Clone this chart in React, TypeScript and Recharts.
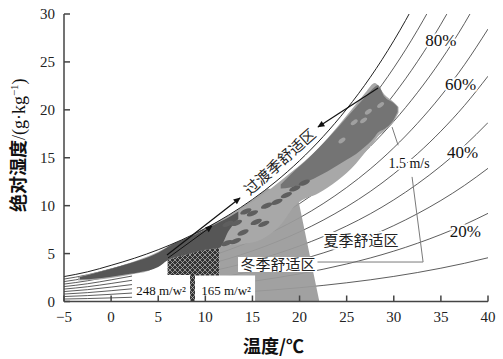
import React from 'react';
import {
  ComposedChart, XAxis, YAxis, Line, Area, Scatter,
  ReferenceArea, ReferenceDot, Label,
} from 'recharts';

// ---------- axes ----------
const xTicks = [-5, 0, 5, 10, 15, 20, 25, 30, 35, 40];
const yTicks = [0, 5, 10, 15, 20, 25, 30];

// ---------- psychrometric grid (dry-bulb °C, saturation vapour pressure kPa) ----------
const gridTemps = [-5, -2.5, 0, 2.5, 5, 7.5, 10, 12.5, 15, 17.5, 20, 22.5, 25, 27.5, 30, 32.5, 35, 37.5, 40];
const satPressure = [0.4217, 0.5017, 0.6112, 0.7315, 0.8726, 1.0373, 1.2282, 1.4497, 1.7057, 2.0009, 2.3392, 2.7272, 3.1697, 3.6723, 4.2467, 4.8977, 5.629, 6.451, 7.3814];
const rhLevels = [10, 20, 30, 40, 50, 60, 70, 80, 90];
const saturationLevel = 100;
const atmPressure = 101.325;

// ---------- zones ----------
const maskT = [2.3, 4, 6];
const maskTop = [4.4, 4.9, 5.7];
const hatchT = [6, 8, 10, 11.5];
const hatchTop = [5.75, 6.6, 7.6, 8.45];
const winterT = [11.5, 13, 15, 16.6, 19.7, 22.1];
const winterTop = [8.45, 9.3, 10.6, 11.8, 11.4, 0];

// ---------- climate data cloud ----------
const climateT = [-3.5, -2, 0, 2, 4, 6, 8, 10, 11.5, 12, 14, 16, 18, 19.5, 20, 22, 24, 26, 27, 28, 28.3, 29, 30, 30.5];
const climateLow = [2.2, 2.25, 2.45, 2.8, 3.2, 4.3, 4.9, 5.4, 5.6, 5.8, 6.0, 6.5, 8.0, 10.0, 10.4, 11.3, 12.6, 14.4, 15.6, 16.8, 17.2, 17.8, 18.8, 19.7];
const climateHigh = [2.55, 2.95, 3.45, 4.05, 4.75, 5.7, 6.6, 7.55, 8.4, 8.6, 9.8, 11.1, 12.6, 13.8, 14.2, 16.0, 18.2, 20.6, 21.8, 22.8, 22.6, 21.6, 20.8, 20.3];
const denseT = [-3.3, -1, 1, 3, 5, 6, 8, 10, 11.5, 12.5, 13.5];
const denseLow = [2.3, 2.45, 2.75, 3.05, 3.6, 4.3, 4.9, 5.4, 5.6, 7.4, 8.6];
const denseHigh = [2.55, 3.15, 3.7, 4.3, 5.1, 5.7, 6.6, 7.5, 8.3, 8.8, 9.4];
const coreT = [18, 19, 21, 23, 25, 26, 27, 28, 28.3, 29, 30, 30.4];
const coreLow = [11.8, 11.9, 12.6, 13.6, 14.8, 15.4, 16.2, 17.2, 17.6, 18.0, 19.0, 19.8];
const coreHigh = [12.2, 13.2, 15.0, 17.0, 19.2, 20.3, 21.4, 22.4, 22.6, 21.4, 20.7, 20.3];
const spotT = [12.4, 13.3, 14.3, 15.0, 15.4, 16.2, 16.5, 12.3, 13.2, 17.6, 18.6, 14.0, 19.5, 20.5];
const spotW = [8.1, 8.2, 9.4, 9.2, 8.3, 8.1, 10.0, 6.1, 6.3, 10.4, 11.1, 7.2, 11.8, 12.4];
const paleT = [25.8, 26.8, 27.3, 24.5, 28.6];
const paleW = [18.7, 18.9, 19.8, 16.8, 20.5];

// ---------- summer zone / ventilation boundary ----------
const ventUpperT = [29.82, 30.46];
const ventUpperW = [18.2, 16.3];
const ventLowerT = [31.94, 33.11];
const ventLowerW = [13.0, 4.12];
const summerBaseT = [21.9, 33.11];
const summerBaseW = [4.12, 4.12];

// ---------- arrows ----------
const arrowLowT = [5.93, 13.68];
const arrowLowW = [4.85, 10.8];
const arrowLow2T = [6.04, 10.71];
const arrowLow2W = [4.54, 7.88];
const arrowHighT = [28.33, 21.96];
const arrowHighW = [22.29, 18.21];

const humidity = (rh: number, ps: number) => (622 * (rh / 100) * ps) / (atmPressure - (rh / 100) * ps);
const curve = (rh: number) => gridTemps.map((t, i) => ({ t, w: humidity(rh, satPressure[i]) }));
const band = (ts: number[], low: number[], high: number[]) => ts.map((t, i) => ({ t, r: [low[i], high[i]] }));
const fromZero = (ts: number[], top: number[]) => ts.map((t, i) => ({ t, r: [0, top[i]] }));
const pts = (ts: number[], ws: number[]) => ts.map((t, i) => ({ t, w: ws[i] }));

const serif = "'Liberation Serif', 'Times New Roman', serif";
const cjk = "'Noto Sans CJK SC', 'Noto Sans CJK JP', sans-serif";
const halo = { stroke: '#fff', strokeWidth: 4, paintOrder: 'stroke', strokeLinejoin: 'round' } as any;

if (typeof document !== 'undefined') {
  document.body.style.margin = '0';
}

const XTick = (p: any) => {
  const v = p.payload.value;
  return (
    <g>
      <line x1={p.x} x2={p.x} y1={p.y} y2={p.y - 6} stroke="#444" strokeWidth={1.5} />
      <text x={p.x} y={p.y + 20} textAnchor="middle" fontSize={15} fontFamily={serif} fill="#222">
        {v < 0 ? '\u2212' + Math.abs(v) : v}
      </text>
    </g>
  );
};
const YTick = (p: any) => (
  <g>
    <line x1={p.x} x2={p.x + 6} y1={p.y} y2={p.y} stroke="#444" strokeWidth={1.5} />
    <text x={p.x - 9} y={p.y} dy="0.35em" textAnchor="end" fontSize={15} fontFamily={serif} fill="#222">
      {p.payload.value}
    </text>
  </g>
);

const textAt = (key: string, t: number, w: number, draw: (x: number, y: number) => any) => (
  <ReferenceDot
    key={key}
    x={t}
    y={w}
    r={0}
    fill="none"
    stroke="none"
    ifOverflow="visible"
    zIndex={1000}
    label={{
      content: (p: any) => {
        const vb = p.viewBox || { x: 0, y: 0, width: 0, height: 0 };
        return draw(vb.x + (vb.width || 0) / 2, vb.y + (vb.height || 0) / 2);
      },
    }}
  />
);

const pct = (label: string) => (x: number, y: number) => (
  <text x={x} y={y} dy="0.35em" textAnchor="middle" fontSize={17} fontFamily={serif} fill="#111" {...halo}>
    {label}
  </text>
);

export default function App() {
  return (
    <div style={{ width: 503, height: 359 }}>
      <svg width={0} height={0} style={{ position: 'absolute' }}>
        <defs>
          <pattern id="crossHatch" width={5} height={5} patternUnits="userSpaceOnUse">
            <rect width={5} height={5} fill="#333" />
            <path d="M0,0 L5,5 M5,0 L0,5" stroke="#bdbdbd" strokeWidth={0.7} />
          </pattern>
          <marker id="arrowHead" viewBox="0 0 10 10" refX={9} refY={5} markerWidth={9} markerHeight={7} orient="auto" markerUnits="userSpaceOnUse">
            <path d="M0,0.5 L10,5 L0,9.5 z" fill="#111" />
          </marker>
        </defs>
      </svg>
      <ComposedChart width={503} height={359} margin={{ top: 14, right: 15, left: 24, bottom: 27.5 }}>
        <XAxis
          type="number"
          dataKey="t"
          domain={[-5, 40]}
          ticks={xTicks}
          allowDataOverflow
          height={30}
          tickSize={0}
          tickMargin={0}
          tickLine={false}
          tick={<XTick />}
          axisLine={{ stroke: '#444', strokeWidth: 1.5 }}
        >
          <Label
            content={(p: any) => {
              const vb = p.viewBox;
              return (
                <text x={vb.x + vb.width / 2 - 2.5} y={vb.y + 45} dy="0.35em" textAnchor="middle" fontSize={18} fontWeight="bold" fontFamily={cjk} fill="#111">
                  温度/℃
                </text>
              );
            }}
          />
        </XAxis>
        <YAxis
          type="number"
          dataKey="w"
          domain={[0, 30]}
          ticks={yTicks}
          allowDataOverflow
          width={40}
          tickSize={0}
          tickMargin={0}
          tickLine={false}
          tick={<YTick />}
          axisLine={{ stroke: '#444', strokeWidth: 1.5 }}
        >
          <Label
            content={(p: any) => {
              const vb = p.viewBox;
              const cx = vb.x - 5;
              const cy = vb.y + vb.height / 2 - 12.5;
              return (
                <text x={cx} y={cy} dy="0.35em" textAnchor="middle" transform={`rotate(-90 ${cx} ${cy})`} fontSize={18} fill="#111">
                  <tspan fontFamily={cjk} fontWeight="bold">绝对湿度</tspan>
                  <tspan fontFamily={serif}>/(g·kg</tspan>
                  <tspan fontFamily={serif} fontSize={11} dy={-7}>−1</tspan>
                  <tspan fontFamily={serif} dy={7}>)</tspan>
                </text>
              );
            }}
          />
        </YAxis>

        {rhLevels.map((rh) => (
          <Line
            key={'rh' + rh}
            data={curve(rh)}
            dataKey="w"
            type="monotone"
            stroke="#333"
            strokeWidth={0.8}
            dot={false}
            activeDot={false}
            isAnimationActive={false}
            zIndex={100}
          />
        ))}

        <Area data={fromZero(maskT, maskTop)} dataKey="r" type="linear" fill="#fff" fillOpacity={1} stroke="none" isAnimationActive={false} zIndex={110} activeDot={false} />
        <Area data={fromZero(hatchT, hatchTop)} dataKey="r" type="linear" fill="url(#crossHatch)" fillOpacity={1} stroke="none" isAnimationActive={false} zIndex={120} activeDot={false} />
        <Area data={fromZero(winterT, winterTop)} dataKey="r" type="linear" fill="#9a9a9a" fillOpacity={0.93} stroke="none" isAnimationActive={false} zIndex={130} activeDot={false} />
        <Area data={band(climateT, climateLow, climateHigh)} dataKey="r" type="monotone" fill="#a8a8a8" fillOpacity={1} stroke="none" isAnimationActive={false} zIndex={140} activeDot={false} />
        <Area data={band(denseT, denseLow, denseHigh)} dataKey="r" type="monotone" fill="#565656" fillOpacity={1} stroke="none" isAnimationActive={false} zIndex={150} activeDot={false} />
        <Area data={band(coreT, coreLow, coreHigh)} dataKey="r" type="monotone" fill="#747474" fillOpacity={1} stroke="none" isAnimationActive={false} zIndex={150} activeDot={false} />
        <Scatter
          data={pts(spotT, spotW)}
          dataKey="w"
          isAnimationActive={false}
          zIndex={160}
          shape={(p: any) => (
            <ellipse cx={p.cx} cy={p.cy} rx={6} ry={2.4} transform={`rotate(-22 ${p.cx} ${p.cy})`} fill="#5e5e5e" />
          )}
        />
        <Scatter
          data={pts(paleT, paleW)}
          dataKey="w"
          isAnimationActive={false}
          zIndex={160}
          shape={(p: any) => (
            <ellipse cx={p.cx} cy={p.cy} rx={4} ry={2} transform={`rotate(-35 ${p.cx} ${p.cy})`} fill="#a0a0a0" />
          )}
        />

        <Line data={curve(saturationLevel)} dataKey="w" type="monotone" stroke="#222" strokeWidth={1} dot={false} activeDot={false} isAnimationActive={false} zIndex={170} />

        <ReferenceArea x1={2.22} x2={8.38} y1={0} y2={2.77} fill="#fff" fillOpacity={1} stroke="none" zIndex={180} />
        <ReferenceArea x1={8.9} x2={15.28} y1={0} y2={2.72} fill="#fff" fillOpacity={1} stroke="none" zIndex={180} />

        <Line data={pts(ventUpperT, ventUpperW)} dataKey="w" type="linear" stroke="#7a7a7a" strokeWidth={1} dot={false} activeDot={false} isAnimationActive={false} zIndex={190} />
        <Line data={pts(ventLowerT, ventLowerW)} dataKey="w" type="linear" stroke="#7a7a7a" strokeWidth={1} dot={false} activeDot={false} isAnimationActive={false} zIndex={190} />
        <Line data={pts(summerBaseT, summerBaseW)} dataKey="w" type="linear" stroke="#7a7a7a" strokeWidth={1} dot={false} activeDot={false} isAnimationActive={false} zIndex={190} />

        <ReferenceArea x1={13.47} x2={21.86} y1={3.08} y2={4.65} fill="#fff" fillOpacity={1} stroke="none" zIndex={195} />

        <Line data={pts(arrowLowT, arrowLowW)} dataKey="w" type="linear" stroke="#111" strokeWidth={1.2} dot={false} activeDot={false} isAnimationActive={false} zIndex={200} markerEnd="url(#arrowHead)" />
        <Line data={pts(arrowLow2T, arrowLow2W)} dataKey="w" type="linear" stroke="#111" strokeWidth={1} dot={false} activeDot={false} isAnimationActive={false} zIndex={200} markerEnd="url(#arrowHead)" />
        <Line data={pts(arrowHighT, arrowHighW)} dataKey="w" type="linear" stroke="#111" strokeWidth={1.2} dot={false} activeDot={false} isAnimationActive={false} zIndex={200} markerEnd="url(#arrowHead)" />

        {textAt('p80', 35.0, 27.3, pct('80%'))}
        {textAt('p60', 37.1, 22.7, pct('60%'))}
        {textAt('p40', 37.3, 15.6, pct('40%'))}
        {textAt('p20', 37.6, 7.4, pct('20%'))}
        {textAt('vel', 31.62, 14.46, (x, y) => (
          <text x={x} y={y} dy="0.35em" textAnchor="middle" fontSize={14} fontFamily={serif} fill="#111" {...halo}>1.5 m/s</text>
        ))}
        {textAt('summer', 26.53, 6.32, (x, y) => (
          <text x={x} y={y} dy="0.35em" textAnchor="middle" fontSize={15} fontFamily={cjk} fill="#222" {...halo}>夏季舒适区</text>
        ))}
        {textAt('winter', 17.72, 3.87, (x, y) => (
          <text x={x} y={y} dy="0.35em" textAnchor="middle" fontSize={15} fontFamily={cjk} fill="#222">冬季舒适区</text>
        ))}
        {textAt('transit', 17.93, 14.56, (x, y) => (
          <text x={x} y={y} dy="0.35em" textAnchor="middle" fontSize={15} fontFamily={cjk} fill="#222" transform={`rotate(-42 ${x} ${y})`}>过渡季舒适区</text>
        ))}
        {textAt('sol248', 5.3, 1.2, (x, y) => (
          <text x={x} y={y} dy="0.35em" textAnchor="middle" fontSize={13} fontFamily={serif} fill="#111">248 m/w²</text>
        ))}
        {textAt('sol165', 12.2, 1.2, (x, y) => (
          <text x={x} y={y} dy="0.35em" textAnchor="middle" fontSize={13} fontFamily={serif} fill="#111">165 m/w²</text>
        ))}
      </ComposedChart>
    </div>
  );
}
